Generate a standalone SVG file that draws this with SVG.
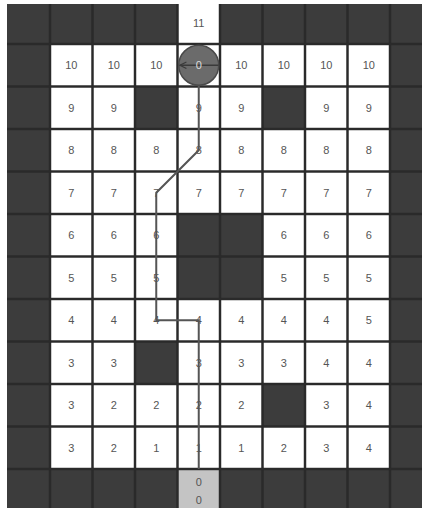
<svg xmlns="http://www.w3.org/2000/svg" width="422" height="508" viewBox="0 0 422 508">
<style>
.cell{fill:#ffffff}
.t{font-family:"Liberation Sans",Arial,sans-serif;font-size:11px;fill:#555555;text-anchor:middle}
.grid{stroke:#2a2a2a;stroke-width:2.5}
.path{fill:none;stroke:#555555;stroke-width:2;stroke-linejoin:miter}
</style>
<defs>
<marker id="head" viewBox="0 0 10 10" refX="9" refY="5" markerWidth="8" markerHeight="8" orient="auto" markerUnits="userSpaceOnUse">
<path d="M1,1 L9,5 L1,9" fill="none" stroke="#3a3a3a" stroke-width="1.6"/>
</marker>
</defs>
<rect x="0" y="0" width="422" height="508" fill="#ffffff"/>
<rect id="walls" x="7" y="4" width="415" height="504" fill="#3c3c3c"/>
<g id="gridlines" class="grid">
<line x1="50" y1="4" x2="50" y2="508"/><line x1="92.5" y1="4" x2="92.5" y2="508"/><line x1="135" y1="4" x2="135" y2="508"/><line x1="177.5" y1="4" x2="177.5" y2="508"/><line x1="220" y1="4" x2="220" y2="508"/><line x1="262.5" y1="4" x2="262.5" y2="508"/><line x1="305" y1="4" x2="305" y2="508"/><line x1="347.5" y1="4" x2="347.5" y2="508"/><line x1="390" y1="4" x2="390" y2="508"/>
<line x1="7" y1="44" x2="422" y2="44"/><line x1="7" y1="86.5" x2="422" y2="86.5"/><line x1="7" y1="129" x2="422" y2="129"/><line x1="7" y1="171.5" x2="422" y2="171.5"/><line x1="7" y1="214" x2="422" y2="214"/><line x1="7" y1="256.5" x2="422" y2="256.5"/><line x1="7" y1="299" x2="422" y2="299"/><line x1="7" y1="341.5" x2="422" y2="341.5"/><line x1="7" y1="384" x2="422" y2="384"/><line x1="7" y1="426.5" x2="422" y2="426.5"/><line x1="7" y1="469" x2="422" y2="469"/>
</g>
<g id="cells">
<g id="c0_4"><rect class="cell" x="178.75" y="4" width="40" height="38.75"/><text class="t" x="198.75" y="27">11</text></g>
<g id="c1_1"><rect class="cell" x="51.25" y="45.25" width="40" height="40"/><text class="t" x="71.25" y="69.25">10</text></g>
<g id="c1_2"><rect class="cell" x="93.75" y="45.25" width="40" height="40"/><text class="t" x="113.75" y="69.25">10</text></g>
<g id="c1_3"><rect class="cell" x="136.25" y="45.25" width="40" height="40"/><text class="t" x="156.25" y="69.25">10</text></g>
<g id="c1_4"><rect class="cell" x="178.75" y="45.25" width="40" height="40"/></g>
<g id="c1_5"><rect class="cell" x="221.25" y="45.25" width="40" height="40"/><text class="t" x="241.25" y="69.25">10</text></g>
<g id="c1_6"><rect class="cell" x="263.75" y="45.25" width="40" height="40"/><text class="t" x="283.75" y="69.25">10</text></g>
<g id="c1_7"><rect class="cell" x="306.25" y="45.25" width="40" height="40"/><text class="t" x="326.25" y="69.25">10</text></g>
<g id="c1_8"><rect class="cell" x="348.75" y="45.25" width="40" height="40"/><text class="t" x="368.75" y="69.25">10</text></g>

<g id="c2_1"><rect class="cell" x="51.25" y="87.75" width="40" height="40"/><text class="t" x="71.25" y="111.75">9</text></g>
<g id="c2_2"><rect class="cell" x="93.75" y="87.75" width="40" height="40"/><text class="t" x="113.75" y="111.75">9</text></g>
<g id="c2_4"><rect class="cell" x="178.75" y="87.75" width="40" height="40"/><text class="t" x="198.75" y="111.75">9</text></g>
<g id="c2_5"><rect class="cell" x="221.25" y="87.75" width="40" height="40"/><text class="t" x="241.25" y="111.75">9</text></g>
<g id="c2_7"><rect class="cell" x="306.25" y="87.75" width="40" height="40"/><text class="t" x="326.25" y="111.75">9</text></g>
<g id="c2_8"><rect class="cell" x="348.75" y="87.75" width="40" height="40"/><text class="t" x="368.75" y="111.75">9</text></g>

<g id="c3_1"><rect class="cell" x="51.25" y="130.25" width="40" height="40"/><text class="t" x="71.25" y="154.25">8</text></g>
<g id="c3_2"><rect class="cell" x="93.75" y="130.25" width="40" height="40"/><text class="t" x="113.75" y="154.25">8</text></g>
<g id="c3_3"><rect class="cell" x="136.25" y="130.25" width="40" height="40"/><text class="t" x="156.25" y="154.25">8</text></g>
<g id="c3_4"><rect class="cell" x="178.75" y="130.25" width="40" height="40"/><text class="t" x="198.75" y="154.25">8</text></g>
<g id="c3_5"><rect class="cell" x="221.25" y="130.25" width="40" height="40"/><text class="t" x="241.25" y="154.25">8</text></g>
<g id="c3_6"><rect class="cell" x="263.75" y="130.25" width="40" height="40"/><text class="t" x="283.75" y="154.25">8</text></g>
<g id="c3_7"><rect class="cell" x="306.25" y="130.25" width="40" height="40"/><text class="t" x="326.25" y="154.25">8</text></g>
<g id="c3_8"><rect class="cell" x="348.75" y="130.25" width="40" height="40"/><text class="t" x="368.75" y="154.25">8</text></g>

<g id="c4_1"><rect class="cell" x="51.25" y="172.75" width="40" height="40"/><text class="t" x="71.25" y="196.75">7</text></g>
<g id="c4_2"><rect class="cell" x="93.75" y="172.75" width="40" height="40"/><text class="t" x="113.75" y="196.75">7</text></g>
<g id="c4_3"><rect class="cell" x="136.25" y="172.75" width="40" height="40"/><text class="t" x="156.25" y="196.75">7</text></g>
<g id="c4_4"><rect class="cell" x="178.75" y="172.75" width="40" height="40"/><text class="t" x="198.75" y="196.75">7</text></g>
<g id="c4_5"><rect class="cell" x="221.25" y="172.75" width="40" height="40"/><text class="t" x="241.25" y="196.75">7</text></g>
<g id="c4_6"><rect class="cell" x="263.75" y="172.75" width="40" height="40"/><text class="t" x="283.75" y="196.75">7</text></g>
<g id="c4_7"><rect class="cell" x="306.25" y="172.75" width="40" height="40"/><text class="t" x="326.25" y="196.75">7</text></g>
<g id="c4_8"><rect class="cell" x="348.75" y="172.75" width="40" height="40"/><text class="t" x="368.75" y="196.75">7</text></g>

<g id="c5_1"><rect class="cell" x="51.25" y="215.25" width="40" height="40"/><text class="t" x="71.25" y="239.25">6</text></g>
<g id="c5_2"><rect class="cell" x="93.75" y="215.25" width="40" height="40"/><text class="t" x="113.75" y="239.25">6</text></g>
<g id="c5_3"><rect class="cell" x="136.25" y="215.25" width="40" height="40"/><text class="t" x="156.25" y="239.25">6</text></g>
<g id="c5_6"><rect class="cell" x="263.75" y="215.25" width="40" height="40"/><text class="t" x="283.75" y="239.25">6</text></g>
<g id="c5_7"><rect class="cell" x="306.25" y="215.25" width="40" height="40"/><text class="t" x="326.25" y="239.25">6</text></g>
<g id="c5_8"><rect class="cell" x="348.75" y="215.25" width="40" height="40"/><text class="t" x="368.75" y="239.25">6</text></g>

<g id="c6_1"><rect class="cell" x="51.25" y="257.75" width="40" height="40"/><text class="t" x="71.25" y="281.75">5</text></g>
<g id="c6_2"><rect class="cell" x="93.75" y="257.75" width="40" height="40"/><text class="t" x="113.75" y="281.75">5</text></g>
<g id="c6_3"><rect class="cell" x="136.25" y="257.75" width="40" height="40"/><text class="t" x="156.25" y="281.75">5</text></g>
<g id="c6_6"><rect class="cell" x="263.75" y="257.75" width="40" height="40"/><text class="t" x="283.75" y="281.75">5</text></g>
<g id="c6_7"><rect class="cell" x="306.25" y="257.75" width="40" height="40"/><text class="t" x="326.25" y="281.75">5</text></g>
<g id="c6_8"><rect class="cell" x="348.75" y="257.75" width="40" height="40"/><text class="t" x="368.75" y="281.75">5</text></g>

<g id="c7_1"><rect class="cell" x="51.25" y="300.25" width="40" height="40"/><text class="t" x="71.25" y="324.25">4</text></g>
<g id="c7_2"><rect class="cell" x="93.75" y="300.25" width="40" height="40"/><text class="t" x="113.75" y="324.25">4</text></g>
<g id="c7_3"><rect class="cell" x="136.25" y="300.25" width="40" height="40"/><text class="t" x="156.25" y="324.25">4</text></g>
<g id="c7_4"><rect class="cell" x="178.75" y="300.25" width="40" height="40"/><text class="t" x="198.75" y="324.25">4</text></g>
<g id="c7_5"><rect class="cell" x="221.25" y="300.25" width="40" height="40"/><text class="t" x="241.25" y="324.25">4</text></g>
<g id="c7_6"><rect class="cell" x="263.75" y="300.25" width="40" height="40"/><text class="t" x="283.75" y="324.25">4</text></g>
<g id="c7_7"><rect class="cell" x="306.25" y="300.25" width="40" height="40"/><text class="t" x="326.25" y="324.25">4</text></g>
<g id="c7_8"><rect class="cell" x="348.75" y="300.25" width="40" height="40"/><text class="t" x="368.75" y="324.25">5</text></g>

<g id="c8_1"><rect class="cell" x="51.25" y="342.75" width="40" height="40"/><text class="t" x="71.25" y="366.75">3</text></g>
<g id="c8_2"><rect class="cell" x="93.75" y="342.75" width="40" height="40"/><text class="t" x="113.75" y="366.75">3</text></g>
<g id="c8_4"><rect class="cell" x="178.75" y="342.75" width="40" height="40"/><text class="t" x="198.75" y="366.75">3</text></g>
<g id="c8_5"><rect class="cell" x="221.25" y="342.75" width="40" height="40"/><text class="t" x="241.25" y="366.75">3</text></g>
<g id="c8_6"><rect class="cell" x="263.75" y="342.75" width="40" height="40"/><text class="t" x="283.75" y="366.75">3</text></g>
<g id="c8_7"><rect class="cell" x="306.25" y="342.75" width="40" height="40"/><text class="t" x="326.25" y="366.75">4</text></g>
<g id="c8_8"><rect class="cell" x="348.75" y="342.75" width="40" height="40"/><text class="t" x="368.75" y="366.75">4</text></g>

<g id="c9_1"><rect class="cell" x="51.25" y="385.25" width="40" height="40"/><text class="t" x="71.25" y="409.25">3</text></g>
<g id="c9_2"><rect class="cell" x="93.75" y="385.25" width="40" height="40"/><text class="t" x="113.75" y="409.25">2</text></g>
<g id="c9_3"><rect class="cell" x="136.25" y="385.25" width="40" height="40"/><text class="t" x="156.25" y="409.25">2</text></g>
<g id="c9_4"><rect class="cell" x="178.75" y="385.25" width="40" height="40"/><text class="t" x="198.75" y="409.25">2</text></g>
<g id="c9_5"><rect class="cell" x="221.25" y="385.25" width="40" height="40"/><text class="t" x="241.25" y="409.25">2</text></g>
<g id="c9_7"><rect class="cell" x="306.25" y="385.25" width="40" height="40"/><text class="t" x="326.25" y="409.25">3</text></g>
<g id="c9_8"><rect class="cell" x="348.75" y="385.25" width="40" height="40"/><text class="t" x="368.75" y="409.25">4</text></g>

<g id="c10_1"><rect class="cell" x="51.25" y="427.75" width="40" height="40"/><text class="t" x="71.25" y="451.75">3</text></g>
<g id="c10_2"><rect class="cell" x="93.75" y="427.75" width="40" height="40"/><text class="t" x="113.75" y="451.75">2</text></g>
<g id="c10_3"><rect class="cell" x="136.25" y="427.75" width="40" height="40"/><text class="t" x="156.25" y="451.75">1</text></g>
<g id="c10_4"><rect class="cell" x="178.75" y="427.75" width="40" height="40"/><text class="t" x="198.75" y="451.75">1</text></g>
<g id="c10_5"><rect class="cell" x="221.25" y="427.75" width="40" height="40"/><text class="t" x="241.25" y="451.75">1</text></g>
<g id="c10_6"><rect class="cell" x="263.75" y="427.75" width="40" height="40"/><text class="t" x="283.75" y="451.75">2</text></g>
<g id="c10_7"><rect class="cell" x="306.25" y="427.75" width="40" height="40"/><text class="t" x="326.25" y="451.75">3</text></g>
<g id="c10_8"><rect class="cell" x="348.75" y="427.75" width="40" height="40"/><text class="t" x="368.75" y="451.75">4</text></g>

<g id="goal"><rect x="178.75" y="470.25" width="40" height="40" fill="#c4c4c4"/><text class="t" x="198.75" y="486">0</text><text class="t" x="198.75" y="504">0</text></g>
</g>
<g id="connectors">
<polyline class="path" points="198.75,85 198.75,150.25 156.25,192.75 156.25,320.25 198.75,320.25 198.75,469"/>
</g>
<g id="robot">
<circle cx="198.75" cy="65.25" r="20" fill="#6b6b6b" stroke="#4a4a4a" stroke-width="1.5"/>
<line x1="218.5" y1="65.25" x2="180" y2="65.25" stroke="#3a3a3a" stroke-width="1.5" marker-end="url(#head)"/>
<text class="t" x="198.75" y="69.25" style="fill:#dddddd">0</text>
</g>
</svg>
